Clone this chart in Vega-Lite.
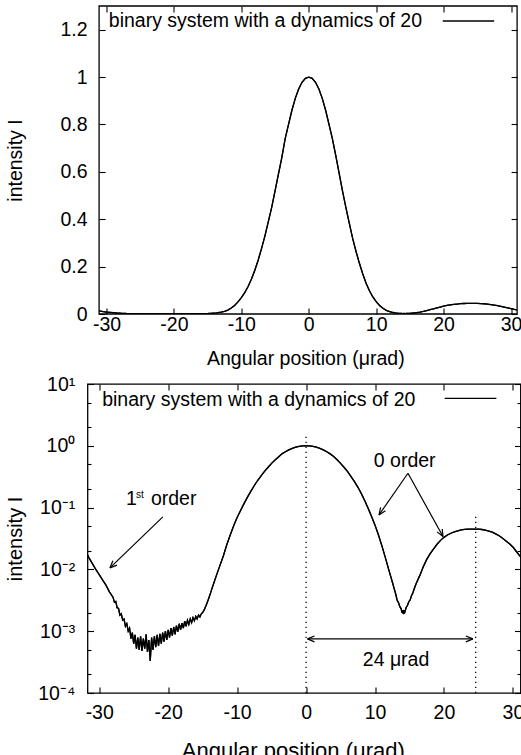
{
  "$schema": "https://vega.github.io/schema/vega-lite/v6.json",
  "padding": {"left": 4.5, "top": 5, "right": 0, "bottom": 0},
  "spacing": 5,
  "config": {
    "font": "Liberation Sans",
    "view": {"stroke": "black", "strokeWidth": 1.3},
    "axis": {"domain": false, "grid": false, "labelFont": "Liberation Sans", "labelFontSize": 19.5, "labelColor": "black", "titleFont": "Liberation Sans", "titleFontSize": 19.5, "titleFontWeight": "normal", "titleColor": "black", "tickColor": "black", "tickWidth": 1.1, "labelOverlap": false, "labelFlush": false, "labelBound": false},
    "text": {"font": "Liberation Sans", "fontSize": 19.5, "color": "black"}
  },
  "datasets": {
    "curve": [
      {"angle": -31.8, "intensity": 0.018}, {"angle": -31.5, "intensity": 0.0155}, {"angle": -31.1, "intensity": 0.013}, {"angle": -30.5, "intensity": 0.01}, {"angle": -30.0, "intensity": 0.0082}, {"angle": -29.5, "intensity": 0.0067}, {"angle": -29.0, "intensity": 0.0055}, {"angle": -28.5, "intensity": 0.0043},
      {"angle": -28.0, "intensity": 0.00355}, {"angle": -27.8, "intensity": 0.00295}, {"angle": -27.6, "intensity": 0.00302}, {"angle": -27.4, "intensity": 0.0024}, {"angle": -27.2, "intensity": 0.00234}, {"angle": -27.0, "intensity": 0.00182}, {"angle": -26.8, "intensity": 0.00191}, {"angle": -26.6, "intensity": 0.00151}, {"angle": -26.4, "intensity": 0.00158}, {"angle": -26.2, "intensity": 0.0012}, {"angle": -26.0, "intensity": 0.00132}, {"angle": -25.8, "intensity": 0.001}, {"angle": -25.6, "intensity": 0.00112}, {"angle": -25.4, "intensity": 0.00076}, {"angle": -25.2, "intensity": 0.00095}, {"angle": -25.0, "intensity": 0.00063}, {"angle": -24.8, "intensity": 0.00087}, {"angle": -24.6, "intensity": 0.00052}, {"angle": -24.4, "intensity": 0.00079}, {"angle": -24.2, "intensity": 0.0005}, {"angle": -24.0, "intensity": 0.00083}, {"angle": -23.8, "intensity": 0.00048}, {"angle": -23.6, "intensity": 0.00076}, {"angle": -23.4, "intensity": 0.00052}, {"angle": -23.2, "intensity": 0.00089}, {"angle": -23.0, "intensity": 0.00046}, {"angle": -22.8, "intensity": 0.00072}, {"angle": -22.6, "intensity": 0.00033}, {"angle": -22.4, "intensity": 0.00079}, {"angle": -22.2, "intensity": 0.0005}, {"angle": -22.0, "intensity": 0.00083}, {"angle": -21.8, "intensity": 0.00055}, {"angle": -21.6, "intensity": 0.00087}, {"angle": -21.4, "intensity": 0.00058}, {"angle": -21.2, "intensity": 0.00091}, {"angle": -21.0, "intensity": 0.00063}, {"angle": -20.8, "intensity": 0.00095}, {"angle": -20.6, "intensity": 0.00068}, {"angle": -20.4, "intensity": 0.001}, {"angle": -20.2, "intensity": 0.00072}, {"angle": -20.0, "intensity": 0.00105}, {"angle": -19.8, "intensity": 0.00079}, {"angle": -19.6, "intensity": 0.00112}, {"angle": -19.4, "intensity": 0.00085}, {"angle": -19.2, "intensity": 0.00117}, {"angle": -19.0, "intensity": 0.00089}, {"angle": -18.8, "intensity": 0.00123}, {"angle": -18.6, "intensity": 0.00098}, {"angle": -18.4, "intensity": 0.00132}, {"angle": -18.2, "intensity": 0.00105}, {"angle": -18.0, "intensity": 0.00135}, {"angle": -17.8, "intensity": 0.00112}, {"angle": -17.6, "intensity": 0.00145}, {"angle": -17.4, "intensity": 0.0012}, {"angle": -17.2, "intensity": 0.00151}, {"angle": -17.0, "intensity": 0.00129}, {"angle": -16.8, "intensity": 0.00158}, {"angle": -16.6, "intensity": 0.00138}, {"angle": -16.4, "intensity": 0.00166}, {"angle": -16.2, "intensity": 0.00148}, {"angle": -16.0, "intensity": 0.00174}, {"angle": -15.8, "intensity": 0.00158}, {"angle": -15.6, "intensity": 0.00182}, {"angle": -15.4, "intensity": 0.0017}, {"angle": -15.2, "intensity": 0.00191}, {"angle": -15.0, "intensity": 0.002}, {"angle": -14.8, "intensity": 0.00219}, {"angle": -14.5, "intensity": 0.0026}, {"angle": -14.2, "intensity": 0.0032}, {"angle": -14.0, "intensity": 0.0037}, {"angle": -13.7, "intensity": 0.0047}, {"angle": -13.5, "intensity": 0.0055},
      {"angle": -13.0, "intensity": 0.008}, {"angle": -12.5, "intensity": 0.0115}, {"angle": -12.0, "intensity": 0.0165}, {"angle": -11.5, "intensity": 0.025}, {"angle": -11.0, "intensity": 0.036}, {"angle": -10.5, "intensity": 0.051}, {"angle": -10.0, "intensity": 0.069}, {"angle": -9.5, "intensity": 0.09}, {"angle": -9.0, "intensity": 0.116}, {"angle": -8.5, "intensity": 0.148}, {"angle": -8.0, "intensity": 0.185}, {"angle": -7.5, "intensity": 0.228}, {"angle": -7.0, "intensity": 0.277}, {"angle": -6.5, "intensity": 0.33}, {"angle": -6.0, "intensity": 0.39}, {"angle": -5.5, "intensity": 0.45}, {"angle": -5.0, "intensity": 0.52}, {"angle": -4.5, "intensity": 0.59}, {"angle": -4.0, "intensity": 0.66}, {"angle": -3.5, "intensity": 0.74}, {"angle": -3.0, "intensity": 0.8}, {"angle": -2.5, "intensity": 0.86}, {"angle": -2.0, "intensity": 0.91}, {"angle": -1.5, "intensity": 0.95}, {"angle": -1.0, "intensity": 0.978}, {"angle": -0.5, "intensity": 0.995}, {"angle": 0.0, "intensity": 1.0}, {"angle": 0.5, "intensity": 0.995}, {"angle": 1.0, "intensity": 0.978}, {"angle": 1.5, "intensity": 0.95}, {"angle": 2.0, "intensity": 0.91}, {"angle": 2.5, "intensity": 0.86}, {"angle": 3.0, "intensity": 0.8}, {"angle": 3.5, "intensity": 0.74}, {"angle": 4.0, "intensity": 0.67}, {"angle": 4.5, "intensity": 0.595}, {"angle": 5.0, "intensity": 0.52}, {"angle": 5.5, "intensity": 0.45}, {"angle": 6.0, "intensity": 0.385}, {"angle": 6.5, "intensity": 0.32}, {"angle": 7.0, "intensity": 0.265}, {"angle": 7.5, "intensity": 0.215}, {"angle": 8.0, "intensity": 0.17}, {"angle": 8.5, "intensity": 0.13}, {"angle": 9.0, "intensity": 0.098}, {"angle": 9.5, "intensity": 0.072}, {"angle": 10.0, "intensity": 0.052}, {"angle": 10.5, "intensity": 0.036}, {"angle": 11.0, "intensity": 0.024}, {"angle": 11.5, "intensity": 0.0155}, {"angle": 12.0, "intensity": 0.0098}, {"angle": 12.5, "intensity": 0.0063}, {"angle": 12.8, "intensity": 0.0048}, {"angle": 13.0, "intensity": 0.004}, {"angle": 13.2, "intensity": 0.0032}, {"angle": 13.4, "intensity": 0.0029}, {"angle": 13.6, "intensity": 0.0025}, {"angle": 13.8, "intensity": 0.0023}, {"angle": 13.9, "intensity": 0.002}, {"angle": 14.0, "intensity": 0.0022}, {"angle": 14.1, "intensity": 0.0019}, {"angle": 14.2, "intensity": 0.0021}, {"angle": 14.3, "intensity": 0.002}, {"angle": 14.5, "intensity": 0.0024}, {"angle": 14.7, "intensity": 0.0026}, {"angle": 14.9, "intensity": 0.003}, {"angle": 15.1, "intensity": 0.0032}, {"angle": 15.3, "intensity": 0.0038}, {"angle": 15.5, "intensity": 0.0042}, {"angle": 15.7, "intensity": 0.0049}, {"angle": 16.0, "intensity": 0.006}, {"angle": 16.5, "intensity": 0.008}, {"angle": 17.0, "intensity": 0.011}, {"angle": 17.5, "intensity": 0.0145}, {"angle": 18.0, "intensity": 0.018}, {"angle": 18.5, "intensity": 0.0215}, {"angle": 19.0, "intensity": 0.0255}, {"angle": 19.5, "intensity": 0.0295}, {"angle": 20.0, "intensity": 0.033}, {"angle": 20.5, "intensity": 0.036}, {"angle": 21.0, "intensity": 0.0385}, {"angle": 21.5, "intensity": 0.0405}, {"angle": 22.0, "intensity": 0.042}, {"angle": 22.5, "intensity": 0.0435}, {"angle": 23.0, "intensity": 0.0443}, {"angle": 23.5, "intensity": 0.0448}, {"angle": 24.0, "intensity": 0.045}, {"angle": 24.5, "intensity": 0.045}, {"angle": 25.0, "intensity": 0.0448}, {"angle": 25.5, "intensity": 0.0442}, {"angle": 26.0, "intensity": 0.0432}, {"angle": 26.5, "intensity": 0.0418}, {"angle": 27.0, "intensity": 0.04}, {"angle": 27.5, "intensity": 0.0375}, {"angle": 28.0, "intensity": 0.035}, {"angle": 28.5, "intensity": 0.0318}, {"angle": 29.0, "intensity": 0.0288}, {"angle": 29.5, "intensity": 0.026}, {"angle": 30.0, "intensity": 0.023}, {"angle": 30.5, "intensity": 0.0195}, {"angle": 31.0, "intensity": 0.0165}, {"angle": 31.3, "intensity": 0.015}
    ]
  },
  "vconcat": [
    {
      "width": 429.6,
      "height": 308,
      "view": {"stroke": null},
      "resolve": {"axis": {"x": "independent", "y": "independent"}},
      "layer": [
        {
          "data": {"name": "curve"},
          "transform": [{"filter": "datum.angle >= -31.1"}],
          "mark": {"type": "line", "color": "black", "strokeWidth": 1.3, "clip": true},
          "encoding": {
            "x": {"field": "angle", "type": "quantitative", "scale": {"domain": [-32.82, 30.9], "nice": false, "zero": false},
              "axis": {"orient": "bottom", "title": "Angular position (μrad)", "titleX": 217.8, "values": [-30, -20, -10, 0, 10, 20, 30], "labelExpr": "'' + datum.value", "tickSize": -6, "labelPadding": 7.4, "minExtent": 23, "maxExtent": 23, "titlePadding": 12.3}},
            "y": {"field": "intensity", "type": "quantitative", "scale": {"domain": [0, 1.3], "nice": false, "zero": false},
              "axis": {"orient": "left", "offset": -11.6, "title": "intensity I", "values": [0, 0.2, 0.4, 0.6, 0.8, 1, 1.2], "labelExpr": "'' + datum.value", "tickSize": -6, "labelPadding": 18, "minExtent": 36, "maxExtent": 36, "titlePadding": 37.3}}
          }
        },
        {
          "data": {"name": "curve"},
          "transform": [{"filter": "datum.angle >= -31.1"}],
          "mark": {"type": "line", "color": "black", "strokeWidth": 1.3, "clip": true},
          "encoding": {
            "x": {"field": "angle", "type": "quantitative", "scale": {"domain": [-32.82, 30.9], "nice": false, "zero": false},
              "axis": {"orient": "top", "title": null, "labels": false, "values": [-30, -20, -10, 0, 10, 20, 30], "tickSize": -6}},
            "y": {"field": "intensity", "type": "quantitative", "scale": {"domain": [0, 1.3], "nice": false, "zero": false},
              "axis": {"orient": "right", "title": null, "labels": false, "values": [0, 0.2, 0.4, 0.6, 0.8, 1, 1.2], "tickSize": -6}}
          }
        },
        {
          "data": {"values": [{"angle": -31.1, "angle2": 30.9, "intensity": 0, "intensity2": 1.3}]},
          "mark": {"type": "rect", "fillOpacity": 0, "stroke": "black", "strokeWidth": 1.3},
          "encoding": {
            "x": {"field": "angle", "type": "quantitative", "scale": {"domain": [-32.82, 30.9], "nice": false, "zero": false}, "axis": null},
            "x2": {"field": "angle2"},
            "y": {"field": "intensity", "type": "quantitative", "scale": {"domain": [0, 1.3], "nice": false, "zero": false}, "axis": null},
            "y2": {"field": "intensity2"}
          }
        },
        {
          "data": {"values": [{"angle": -29.66, "intensity": 1.211, "label": "binary system with a dynamics of 20"}]},
          "mark": {"type": "text", "align": "left", "baseline": "alphabetic"},
          "encoding": {
            "x": {"field": "angle", "type": "quantitative", "scale": {"domain": [-32.82, 30.9], "nice": false, "zero": false}, "axis": null},
            "y": {"field": "intensity", "type": "quantitative", "scale": {"domain": [0, 1.3], "nice": false, "zero": false}, "axis": null},
            "text": {"field": "label"}
          }
        },
        {
          "data": {"values": [{"angle": 19.87, "angle2": 27.5, "intensity": 1.2366}]},
          "mark": {"type": "rule", "color": "black", "strokeWidth": 1.3},
          "encoding": {
            "x": {"field": "angle", "type": "quantitative", "scale": {"domain": [-32.82, 30.9], "nice": false, "zero": false}, "axis": null},
            "x2": {"field": "angle2"},
            "y": {"field": "intensity", "type": "quantitative", "scale": {"domain": [0, 1.3], "nice": false, "zero": false}, "axis": null}
          }
        }
      ]
    },
    {
      "width": 433,
      "height": 309,
      "resolve": {"axis": {"x": "independent", "y": "independent"}},
      "layer": [
        {
          "data": {"name": "curve"},
          "mark": {"type": "line", "color": "black", "strokeWidth": 1.3, "clip": true},
          "encoding": {
            "x": {"field": "angle", "type": "quantitative", "scale": {"domain": [-31.7, 31.1], "nice": false, "zero": false},
              "axis": {"orient": "bottom", "title": "Angular position (μrad)", "titleFontSize": 22, "titleX": 205.3, "values": [-30, -20, -10, 0, 10, 20, 30], "labelExpr": "'' + datum.value", "tickSize": -6, "labelPadding": 16, "minExtent": 28, "maxExtent": 28, "titlePadding": 19}},
            "y": {"field": "intensity", "type": "quantitative", "scale": {"type": "log", "domain": [0.0001, 10], "nice": false},
              "axis": {"orient": "left", "title": "intensity I", "titleFontSize": 20, "values": [0.0001, 0.0002, 0.0005, 0.001, 0.002, 0.005, 0.01, 0.02, 0.05, 0.1, 0.2, 0.5, 1, 2, 5, 10],
                "labelExpr": "abs(log(datum.value)/LN10 - round(log(datum.value)/LN10)) > 0.01 ? '' : datum.value > 5 ? '10¹' : datum.value > 0.5 ? '10⁰' : datum.value > 0.05 ? '10⁻¹' : datum.value > 0.005 ? '10⁻²' : datum.value > 0.0005 ? '10⁻³' : '10⁻⁴'",
                "tickSize": {"condition": {"test": "abs(log(datum.value)/LN10 - round(log(datum.value)/LN10)) < 0.01", "value": -6}, "value": -3.5},
                "labelPadding": 18.7, "minExtent": 45, "maxExtent": 45, "titlePadding": 16.7}}
          }
        },
        {
          "data": {"name": "curve"},
          "mark": {"type": "line", "color": "black", "strokeWidth": 1.3, "clip": true},
          "encoding": {
            "x": {"field": "angle", "type": "quantitative", "scale": {"domain": [-31.7, 31.1], "nice": false, "zero": false},
              "axis": {"orient": "top", "title": null, "labels": false, "values": [-30, -20, -10, 0, 10, 20, 30], "tickSize": -6}},
            "y": {"field": "intensity", "type": "quantitative", "scale": {"type": "log", "domain": [0.0001, 10], "nice": false},
              "axis": {"orient": "right", "title": null, "labels": false, "values": [0.0001, 0.0002, 0.0005, 0.001, 0.002, 0.005, 0.01, 0.02, 0.05, 0.1, 0.2, 0.5, 1, 2, 5, 10],
                "tickSize": {"condition": {"test": "abs(log(datum.value)/LN10 - round(log(datum.value)/LN10)) < 0.01", "value": -6}, "value": -3.5}}}
          }
        },
        {
          "data": {"values": [{"angle": 0, "intensity": 0.0001, "intensity2": 1.5}, {"angle": 24.6, "intensity": 0.0001, "intensity2": 0.071}]},
          "mark": {"type": "rule", "color": "black", "strokeWidth": 1.3, "strokeDash": [1.3, 3.7]},
          "encoding": {
            "x": {"field": "angle", "type": "quantitative", "scale": {"domain": [-31.7, 31.1], "nice": false, "zero": false}, "axis": null},
            "y": {"field": "intensity", "type": "quantitative", "scale": {"type": "log", "domain": [0.0001, 10], "nice": false}, "axis": null},
            "y2": {"field": "intensity2"}
          }
        },
        {
          "data": {"values": [
            {"angle": -20.77, "intensity": 0.0708, "angle2": -28.45, "intensity2": 0.0106},
            {"angle": 14.78, "intensity": 0.36, "angle2": 10.58, "intensity2": 0.0762},
            {"angle": 14.78, "intensity": 0.36, "angle2": 19.86, "intensity2": 0.034},
            {"angle": 0.2, "intensity": 0.00075, "angle2": 24.2, "intensity2": 0.00075}
          ]},
          "mark": {"type": "rule", "color": "black", "strokeWidth": 1.2},
          "encoding": {
            "x": {"field": "angle", "type": "quantitative", "scale": {"domain": [-31.7, 31.1], "nice": false, "zero": false}, "axis": null},
            "y": {"field": "intensity", "type": "quantitative", "scale": {"type": "log", "domain": [0.0001, 10], "nice": false}, "axis": null},
            "x2": {"field": "angle2"},
            "y2": {"field": "intensity2"}
          }
        },
        {
          "data": {"values": [
            {"angle": -28.45, "intensity": 0.0106, "dir": 136},
            {"angle": 10.58, "intensity": 0.0762, "dir": 124.8},
            {"angle": 19.86, "intensity": 0.034, "dir": 61.1},
            {"angle": 0.2, "intensity": 0.00075, "dir": 180},
            {"angle": 24.2, "intensity": 0.00075, "dir": 0}
          ]},
          "mark": {"type": "point", "shape": "M0,0L-1,-0.42M0,0L-1,0.42", "size": 196, "filled": false, "color": "black", "strokeWidth": 1.2, "opacity": 1},
          "encoding": {
            "x": {"field": "angle", "type": "quantitative", "scale": {"domain": [-31.7, 31.1], "nice": false, "zero": false}, "axis": null},
            "y": {"field": "intensity", "type": "quantitative", "scale": {"type": "log", "domain": [0.0001, 10], "nice": false}, "axis": null},
            "angle": {"field": "dir", "type": "quantitative", "scale": null}
          }
        },
        {
          "data": {"values": [
            {"angle": -29.57, "intensity": 4.41, "label": "binary system with a dynamics of 20"},
            {"angle": -26.1, "intensity": 0.1107, "label": "1"},
            {"angle": -22.5, "intensity": 0.1107, "label": "order"}
          ]},
          "mark": {"type": "text", "baseline": "alphabetic", "align": "left"},
          "encoding": {
            "x": {"field": "angle", "type": "quantitative", "scale": {"domain": [-31.7, 31.1], "nice": false, "zero": false}, "axis": null},
            "y": {"field": "intensity", "type": "quantitative", "scale": {"type": "log", "domain": [0.0001, 10], "nice": false}, "axis": null},
            "text": {"field": "label"}
          }
        },
        {
          "data": {"values": [
            {"angle": 14.3, "intensity": 0.45, "label": "0 order"},
            {"angle": 13.05, "intensity": 0.000276, "label": "24 μrad"}
          ]},
          "mark": {"type": "text", "baseline": "alphabetic", "align": "center"},
          "encoding": {
            "x": {"field": "angle", "type": "quantitative", "scale": {"domain": [-31.7, 31.1], "nice": false, "zero": false}, "axis": null},
            "y": {"field": "intensity", "type": "quantitative", "scale": {"type": "log", "domain": [0.0001, 10], "nice": false}, "axis": null},
            "text": {"field": "label"}
          }
        },
        {
          "data": {"values": [{"angle": -24.68, "intensity": 0.142, "label": "st"}]},
          "mark": {"type": "text", "baseline": "alphabetic", "align": "left", "fontSize": 10},
          "encoding": {
            "x": {"field": "angle", "type": "quantitative", "scale": {"domain": [-31.7, 31.1], "nice": false, "zero": false}, "axis": null},
            "y": {"field": "intensity", "type": "quantitative", "scale": {"type": "log", "domain": [0.0001, 10], "nice": false}, "axis": null},
            "text": {"field": "label"}
          }
        },
        {
          "data": {"values": [{"angle": 20.1, "angle2": 27.6, "intensity": 5.87}]},
          "mark": {"type": "rule", "color": "black", "strokeWidth": 1.3},
          "encoding": {
            "x": {"field": "angle", "type": "quantitative", "scale": {"domain": [-31.7, 31.1], "nice": false, "zero": false}, "axis": null},
            "x2": {"field": "angle2"},
            "y": {"field": "intensity", "type": "quantitative", "scale": {"type": "log", "domain": [0.0001, 10], "nice": false}, "axis": null}
          }
        }
      ]
    }
  ]
}
